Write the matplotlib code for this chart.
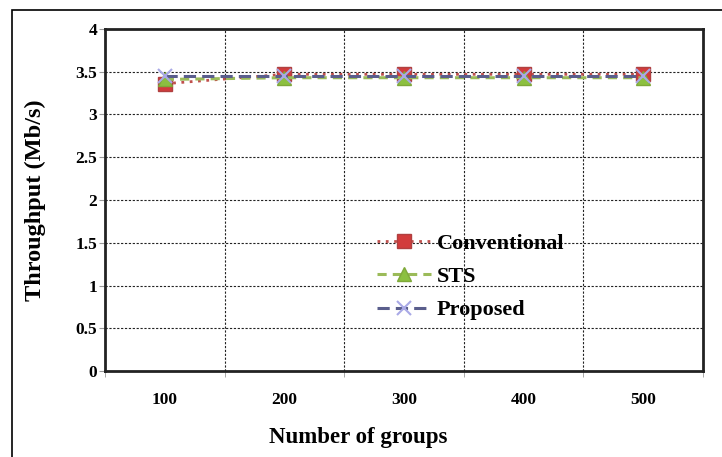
import matplotlib
matplotlib.use("Agg")
import matplotlib.pyplot as plt
from matplotlib.patches import Rectangle
import numpy as np

# Data
groups = ["100", "200", "300", "400", "500"]
conventional = [3.36, 3.47, 3.47, 3.47, 3.47]
sts = [3.41, 3.43, 3.43, 3.43, 3.43]
proposed = [3.45, 3.45, 3.45, 3.45, 3.45]
y_ticks = [0, 0.5, 1, 1.5, 2, 2.5, 3, 3.5, 4]
y_tick_labels = ["0", "0.5", "1", "1.5", "2", "2.5", "3", "3.5", "4"]

plt.rcParams["font.family"] = ["Liberation Serif", "DejaVu Serif"]
plt.rcParams["font.weight"] = "bold"

W, H = 722, 457
fig = plt.figure(figsize=(W / 100, H / 100), dpi=100)
fig.patch.set_facecolor("white")

# outer frame around the chart
fig.patches.append(Rectangle((12 / W, -0.05), 1.2, 1 - 10 / H + 0.05,
                             transform=fig.transFigure, fill=False,
                             edgecolor="black", linewidth=1.2, zorder=0))

ax = fig.add_axes([105 / W, 1 - 371 / H, (703 - 105) / W, (371 - 29) / H])

x = np.arange(len(groups))
ax.plot(x, conventional, linestyle=(0, (1, 2)), color="#C0504D", linewidth=2,
        marker="s", markersize=10, markerfacecolor="#D23C3C",
        markeredgecolor="#B04040", label="Conventional", zorder=4)
ax.plot(x, sts, linestyle=(0, (3, 2)), color="#9BBB59", linewidth=2.2,
        marker="^", markersize=10, markerfacecolor="#8CC040",
        markeredgecolor="#7FA83A", label="STS", zorder=5)
ax.plot(x, proposed, linestyle=(0, (4, 2)), color="#5A5E8C", linewidth=2.2,
        marker="x", markersize=10, markeredgewidth=1.5,
        markeredgecolor="#A9A9E6", label="Proposed", zorder=6)

ax.set_xlim(-0.5, len(groups) - 0.5)
ax.set_ylim(0, 4)

ax.set_xticks(x)
ax.set_xticklabels(groups, fontsize=12.5, fontweight="bold")
ax.set_xticks(np.arange(len(groups) + 1) - 0.5, minor=True)
ax.tick_params(axis="x", which="major", length=0, pad=15)
ax.tick_params(axis="x", which="minor", length=4, color="#999999", direction="out")

ax.set_yticks(y_ticks)
ax.set_yticklabels(y_tick_labels, fontsize=12.5, fontweight="bold")
ax.tick_params(axis="y", which="major", length=4, color="#999999", direction="out", pad=1.5)

# dashed grid at category boundaries and every 0.5
ax.grid(False)
for b in np.arange(1, len(groups)) - 0.5:
    ax.axvline(b, color="#222222", linestyle=(0, (2, 1.5)), linewidth=0.8, zorder=1)
for yt in y_ticks[1:-1]:
    ax.axhline(yt, color="#222222", linestyle=(0, (2, 1.5)), linewidth=0.8, zorder=1)

for s in ax.spines.values():
    s.set_linewidth(2)
    s.set_color("#222222")

ax.set_xlabel("Number of groups", fontsize=16.5, fontweight="bold")
ax.xaxis.set_label_coords(0.423, -0.163)
ax.set_ylabel("Throughput (Mb/s)", fontsize=17.5, fontweight="bold")
ax.yaxis.set_label_coords(-0.098, 0.5)

leg = ax.legend(loc="upper left", bbox_to_anchor=(357 / W, 1 - 213 / H),
                bbox_transform=fig.transFigure, frameon=False,
                prop={"size": 16, "weight": "bold"}, handlelength=2.45,
                labelspacing=0.58, handletextpad=0.25)

fig.savefig("out.png", dpi=100)
